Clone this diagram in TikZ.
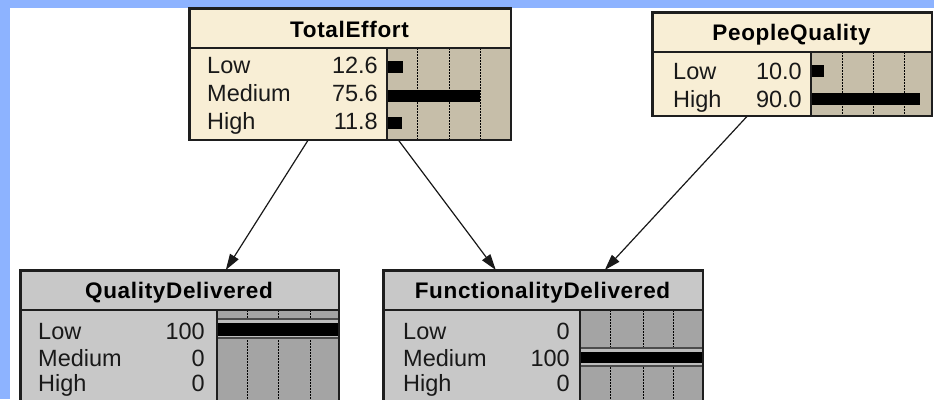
\documentclass[tikz,border=0pt]{standalone}
\usepackage{fontspec}
\usepackage{tikz}
\usetikzlibrary{arrows.meta,calc}
\newfontfamily\netfont{Liberation Sans}
\newfontfamily\nettitle[LetterSpace=3]{Liberation Sans}
\definecolor{nbblue}{HTML}{8DB3FF}
\definecolor{nbcream}{HTML}{F8EED5}
\definecolor{nbtan}{HTML}{C6BEA9}
\definecolor{nbgrey}{HTML}{C8C8C8}
\definecolor{nbgreyd}{HTML}{A4A4A4}
\definecolor{nbband}{HTML}{BDBDBD}
\definecolor{nbedge}{HTML}{1E1E1E}
\tikzset{
  netbox/.style    = {draw=nbedge, line width=1.6pt, anchor=north west,
                      inner sep=0pt},
  prior/.style     = {netbox, fill=nbcream},
  found/.style     = {netbox, fill=nbgrey},
  rim/.style       = {draw=nbedge, line width=1.6pt},
  divider/.style   = {draw=nbedge, line width=1.6pt},
  nodetitle/.style = {font=\nettitle\bfseries\fontsize{22.5}{23}\selectfont,
                      anchor=base, inner sep=0pt},
  statelbl/.style  = {font=\netfont\fontsize{23.5}{24}\selectfont,
                      anchor=base west, inner sep=0pt, text=black!90},
  problbl/.style   = {statelbl, anchor=base east},
  gauge/.style     = {draw=black, line width=1pt, dash pattern=on 1.5pt off 1.5pt},
  probbar/.style   = {fill=black},
  bandline/.style  = {draw=black!70, line width=1.2pt},
  link/.style      = {-{Triangle[length=16pt,width=10pt]}, draw=black!90,
                      line width=1.2pt},
}

\begin{document}
\begin{tikzpicture}[x=1pt, y=-1pt]

  \clip (0,0) rectangle (934,399);
  \fill[nbblue] (0,0) rectangle (934,399);
  \fill[white] (10,8) rectangle (934,399);

  % ---- TotalEffort -------------------------------------------------------
  \node[prior, minimum width=321pt, minimum height=131pt] (effort) at (189,8) {};
  \fill[nbtan] (387,48) rectangle (510,139);
  \draw[gauge] (417,48) -- (417,139) (449,48) -- (449,139) (480,48) -- (480,139);
  \fill[probbar] (387,61) rectangle (403,73);
  \fill[probbar] (387,89.5) rectangle (480,101.5);
  \fill[probbar] (387,116.5) rectangle (402,128.5);
  \draw[divider] (189,48) -- (510,48) (387,48) -- (387,139);
  \draw[rim] (effort.north west) rectangle (effort.south east);
  \node[nodetitle] (effortT) at (349.5,37) {TotalEffort};
  \node[statelbl] at (207,73.5)  {Low};
  \node[statelbl] at (207,101.5) {Medium};
  \node[statelbl] at (207,129)   {High};
  \node[problbl] at (378,73.5)   {12.6};
  \node[problbl] at (378,101.5)  {75.6};
  \node[problbl] at (378,129)    {11.8};

  % ---- PeopleQuality -----------------------------------------------------
  \node[prior, minimum width=279pt, minimum height=103pt] (people) at (652,12) {};
  \fill[nbtan] (811,52) rectangle (931,115);
  \draw[gauge] (842,52) -- (842,115) (873,52) -- (873,115) (904,52) -- (904,115);
  \fill[probbar] (811,65) rectangle (824,77);
  \fill[probbar] (811,93) rectangle (920,105);
  \draw[divider] (652,52) -- (931,52) (811,52) -- (811,115);
  \draw[rim] (people.north west) rectangle (people.south east);
  \node[nodetitle] (peopleT) at (791.5,40) {PeopleQuality};
  \node[statelbl] at (673,79.5)  {Low};
  \node[statelbl] at (673,107)   {High};
  \node[problbl] at (802,79.5)   {10.0};
  \node[problbl] at (802,107)    {90.0};

  % ---- QualityDelivered (found: Low) -------------------------------------
  \node[found, minimum width=318pt, minimum height=140pt] (quality) at (20,270) {};
  \fill[nbgreyd] (217,310) rectangle (338,410);
  \draw[gauge] (247,310) -- (247,410) (278,310) -- (278,410) (310,310) -- (310,410);
  \fill[nbband] (217,319) rectangle (338,338);
  \fill[probbar] (217,323) rectangle (338,336);
  \draw[bandline] (217,319) -- (338,319) (217,338) -- (338,338);
  \draw[divider] (20,310) -- (338,310) (217,310) -- (217,410);
  \draw[rim] (quality.north west) rectangle (quality.south east);
  \node[nodetitle] (qualityT) at (179,298) {QualityDelivered};
  \node[statelbl] at (38,339.5) {Low};
  \node[statelbl] at (38,366)   {Medium};
  \node[statelbl] at (38,391)   {High};
  \node[problbl] at (205,339.5) {100};
  \node[problbl] at (205,366)   {0};
  \node[problbl] at (205,391)   {0};

  % ---- FunctionalityDelivered (found: Medium) ----------------------------
  \node[found, minimum width=319pt, minimum height=140pt] (funct) at (383,270) {};
  \fill[nbgreyd] (580,310) rectangle (702,410);
  \draw[gauge] (610,310) -- (610,410) (643,310) -- (643,410) (673,310) -- (673,410);
  \fill[nbband] (580,348) rectangle (702,366);
  \fill[probbar] (580,352) rectangle (702,363);
  \draw[bandline] (580,348) -- (702,348) (580,366) -- (702,366);
  \draw[divider] (383,310) -- (702,310) (580,310) -- (580,410);
  \draw[rim] (funct.north west) rectangle (funct.south east);
  \node[nodetitle] (functT) at (542.5,298) {FunctionalityDelivered};
  \node[statelbl] at (403,339.5) {Low};
  \node[statelbl] at (403,366)   {Medium};
  \node[statelbl] at (403,391)   {High};
  \node[problbl] at (570,339.5)  {0};
  \node[problbl] at (570,366)    {100};
  \node[problbl] at (570,391)    {0};

  % ---- links -------------------------------------------------------------
  \draw[link] ([xshift=-42.5pt]effort.south) -- ([xshift=46pt]quality.north);
  \draw[link] ([xshift=48.5pt]effort.south) -- ([xshift=-47.5pt]funct.north);
  \draw[link] ([xshift=-45.5pt]people.south) -- ([xshift=61.5pt]funct.north);

\end{tikzpicture}
\end{document}
